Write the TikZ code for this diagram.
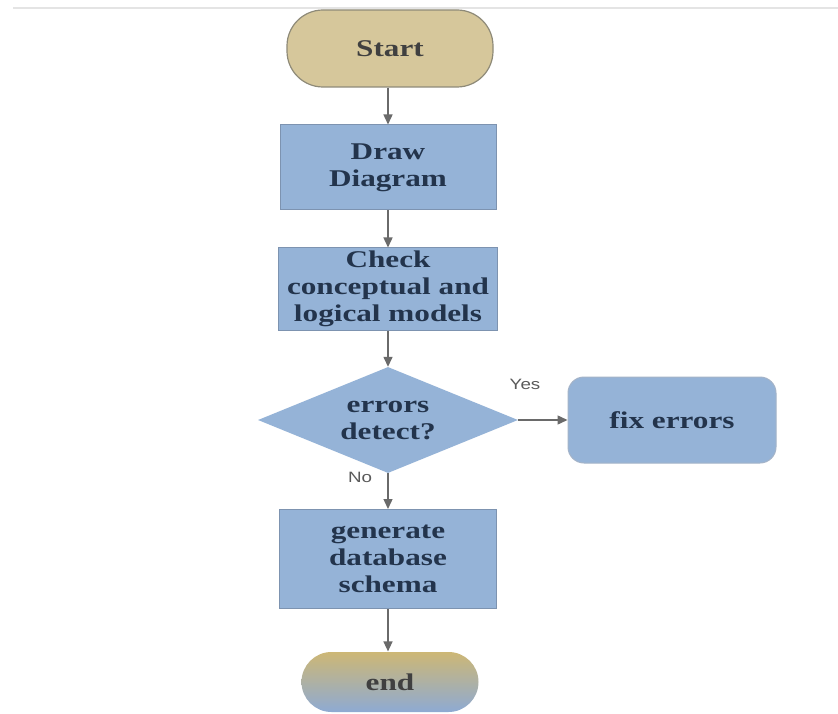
\documentclass[tikz,border=0pt]{standalone}
\usepackage{fontspec}
\setmainfont[FakeStretch=1.3]{Liberation Serif}
\newfontfamily\labfont[FakeStretch=1.25]{Liberation Sans}
\usetikzlibrary{shapes.geometric,arrows.meta}
\definecolor{boxfill}{HTML}{95B3D7}
\definecolor{boxline}{HTML}{7D93B0}
\definecolor{boxtext}{HTML}{23344C}
\definecolor{tanfill}{HTML}{D6C79B}
\definecolor{tanline}{HTML}{8E8A78}
\definecolor{endtop}{HTML}{CDB775}
\definecolor{endbot}{HTML}{8EAAD3}
\definecolor{connector}{HTML}{6A6A6A}
\definecolor{rulegray}{HTML}{E4E4E4}
\definecolor{labgray}{HTML}{5A5A5A}
\tikzset{
  x=1pt, y=-1pt,
  flowtext/.style={font=\bfseries\fontsize{24}{27}\selectfont, text=boxtext, align=center, inner sep=0pt},
  procbox/.style={flowtext, rectangle, draw=boxline, line width=1pt, fill=boxfill},
  terminal/.style={flowtext, rectangle, rounded corners=36pt, draw=tanline, line width=1.2pt, text=black!75},
  decision/.style={flowtext, diamond, draw=none, fill=boxfill, aspect=2.45, minimum width=260pt, minimum height=106pt},
  fixbox/.style={procbox, rounded corners=16pt, draw=boxline!70},
  flow/.style={draw=connector, line width=1.4pt, -{Triangle[length=10pt,width=9pt]}},
  edgelabel/.style={font=\labfont\fontsize{15}{17}\selectfont, text=labgray, inner sep=0pt}
}
\begin{document}
\begin{tikzpicture}
\useasboundingbox (0,0) rectangle (838,714);
\fill[white] (0,0) rectangle (838,714);
% thin header rule
\draw[rulegray, line width=2pt] (13,8) -- (838,8);

% terminals and steps
\node[terminal, fill=tanfill, minimum width=206pt, minimum height=77pt] (start) at (390,48.5) {Start};
\node[procbox, minimum width=216pt, minimum height=85pt] (draw) at (388,167.5) {Draw\\Diagram};
\node[procbox, minimum width=219pt, minimum height=82pt] (check) at (388,289) {Check\\conceptual and\\logical models};
\node[decision] (dec) at (388,420) {errors\\detect?};
\node[fixbox, minimum width=208pt, minimum height=86pt] (fix) at (672,420) {fix errors};
\node[procbox, minimum width=217pt, minimum height=99pt] (gen) at (388,559) {generate\\database\\schema};
\node[terminal, top color=endtop, bottom color=endbot, draw=none, minimum width=177pt, minimum height=60pt, rounded corners=30pt] (end) at (390,682) {end};

% connectors
\draw[flow] (start.south -| draw.north) -- (draw.north);
\draw[flow] (draw.south) -- (check.north);
\draw[flow] (check.south) -- (dec.north);
\draw[flow] (dec.east) -- (fix.west);
\draw[flow] (dec.south) -- (gen.north);
\draw[flow] (gen.south) -- (end.north -| gen.south);

% branch labels
\node[edgelabel] (yes) at (525,384) {Yes};
\node[edgelabel] (no) at (360,477) {No};
\end{tikzpicture}
\end{document}
